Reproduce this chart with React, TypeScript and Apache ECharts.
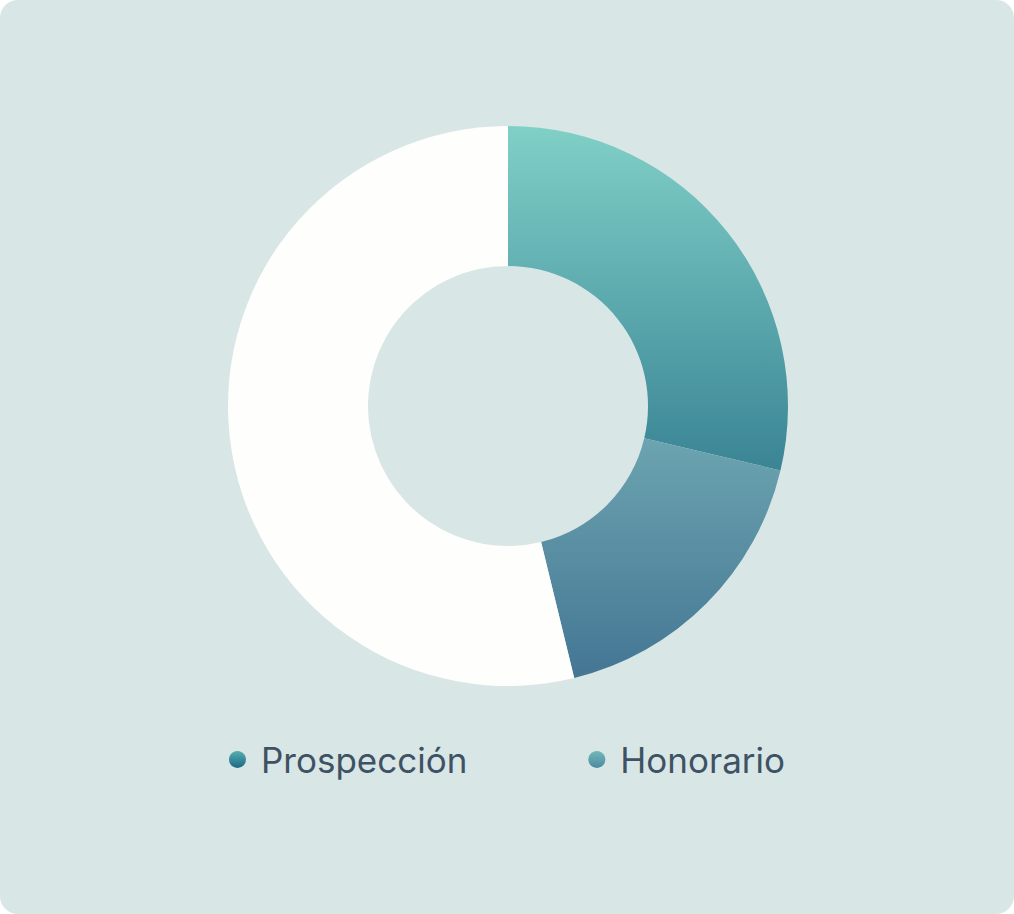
import React, { useEffect, useRef } from "react";
import * as echarts from "echarts";

const categories = ["Prospección", "Honorario", "Restante"];
const values = [28.7, 17.5, 53.8];
const legendItems = ["Prospección", "Honorario"];

export default function App() {
  const ref = useRef<HTMLDivElement>(null);
  useEffect(() => {
    if (!ref.current) return;
    const chart = echarts.init(ref.current, null, { renderer: "svg" });
    const grads = [
      new echarts.graphic.LinearGradient(0, 0, 0, 1, [
        { offset: 0, color: "#80d0c7" },
        { offset: 1, color: "#3a8495" },
      ]),
      new echarts.graphic.LinearGradient(0, 0, 0, 1, [
        { offset: 0, color: "#6ca4b0" },
        { offset: 1, color: "#447694" },
      ]),
      "#fefefc",
    ];
    const legendGrads = [
      new echarts.graphic.LinearGradient(0, 0, 0, 1, [
        { offset: 0, color: "#55aeb3" },
        { offset: 1, color: "#1c6884" },
      ]),
      new echarts.graphic.LinearGradient(0, 0, 0, 1, [
        { offset: 0, color: "#72b8bb" },
        { offset: 1, color: "#4c8aa0" },
      ]),
    ];
    chart.setOption({
      animation: false,
      backgroundColor: "transparent",
      legend: {
        data: legendItems.map((name, i) => ({
          name,
          itemStyle: { color: legendGrads[i] },
        })),
        bottom: 132,
        left: "center",
        icon: "circle",
        itemWidth: 17,
        itemHeight: 17,
        itemGap: 121,
        textStyle: {
          fontFamily: "Inter",
          fontSize: 35,
          color: "#3f5264",
          padding: [0, 0, 0, 10],
        },
      },
      series: [
        {
          type: "pie",
          center: [508, 406],
          radius: [140, 280],
          startAngle: 90,
          clockwise: true,
          label: { show: false },
          labelLine: { show: false },
          emphasis: { disabled: true },
          data: categories.map((name, i) => ({
            name,
            value: values[i],
            itemStyle: { color: grads[i] },
          })),
        },
      ],
    });
    return () => chart.dispose();
  }, []);
  return (
    <div
      style={{
        position: "fixed",
        left: 0,
        top: 0,
        width: 1014,
        height: 914,
        borderRadius: 18,
        background: "#d8e7e6",
        overflow: "hidden",
      }}
    >
      <div ref={ref} style={{ width: 1014, height: 914 }} />
    </div>
  );
}
